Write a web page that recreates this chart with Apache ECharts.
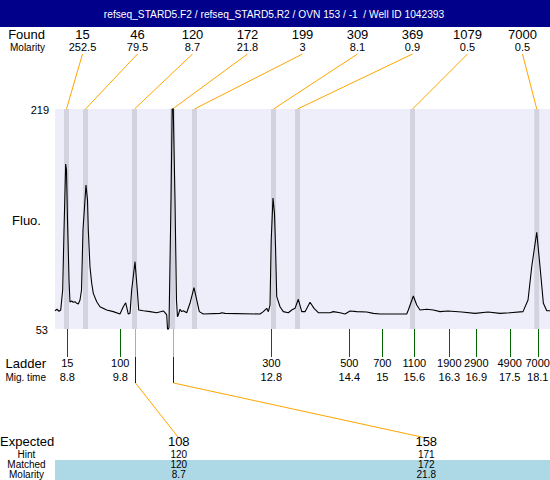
<!DOCTYPE html>
<html><head><meta charset="utf-8">
<script src="https://cdn.jsdelivr.net/npm/echarts@6/dist/echarts.min.js"></script>
<style>html,body{margin:0;padding:0;background:#fff}#c{width:550px;height:480px}</style>
</head><body><div id="c"></div>
<script>
const titleText = 'refseq_STARD5.F2 / refseq_STARD5.R2 / OVN 153 / -1  / Well ID 1042393';
const foundSizes = ['15','46','120','172','199','309','369','1079','7000'];
const foundMolarity = ['252.5','79.5','8.7','21.8','3','8.1','0.9','0.5','0.5'];
const peakTimes = [8.79, 9.166, 10.134, 10.887, 11.319, 12.88, 13.355, 15.627, 18.081];
const ladderSizes = ['15','100','300','500','700','1100','1900','2900','4900','7000'];
const ladderTimes = [8.806, 9.853, 12.837, 14.378, 15.030, 15.662, 16.354, 16.887, 17.547, 18.101];
const ladderTimeLabels = ['8.8','9.8','12.8','14.4','15','15.6','16.3','16.9','17.5','18.1'];
const expectedSizes = ['108','158'];
const hintSizes = ['120','171'];
const matchedSizes = ['120','172'];
const matchedMolarity = ['8.7','21.8'];
const matchedPeakIndex = [2, 3];
const yMin = 53, yMax = 219;
const xMin = 8.563, xMax = 18.343;
const traceTime = [8.563,8.602,8.642,8.676,8.715,8.741,8.774,8.790,8.810,8.840,
8.859,8.893,8.924,8.958,8.992,9.023,9.057,9.087,9.116,9.175,
9.205,9.221,9.254,9.288,9.320,9.387,9.452,9.584,9.715,9.847,
9.912,9.960,10.011,10.045,10.078,10.144,10.189,10.217,10.308,10.440,
10.572,10.703,10.736,10.770,10.790,10.815,10.855,10.887,10.934,10.963,
10.983,10.999,11.033,11.066,11.098,11.165,11.230,11.309,11.363,11.414,
11.493,11.823,11.863,11.922,12.614,12.679,12.746,12.778,12.811,12.835,
12.870,12.900,12.920,12.944,13.009,13.074,13.173,13.240,13.305,13.370,
13.438,13.503,13.602,13.681,13.766,13.997,14.062,14.195,14.293,14.392,
14.524,14.722,14.852,14.985,15.512,15.544,15.643,15.710,15.775,15.907,
16.038,16.170,16.328,16.599,16.862,17.119,17.356,17.553,17.810,17.909,
17.982,18.081,18.146,18.212,18.279,18.343];
const traceFluo = [66.8,67.9,66.4,67.3,82.4,127.7,177.5,173,135.3,90,
73.4,74.1,73.2,73.6,72.4,71.9,74.9,82.4,127.7,161.7,
150.4,127.7,100,87.5,79.9,73.6,69.8,67.3,66.1,64.3,
69.8,72.8,64.3,64.8,82.4,103.8,82.4,67.3,66.8,66.1,
65.3,66.6,65.3,63.6,50.7,54.5,150.4,245,150.4,74.9,
62.3,63.6,67.9,66.1,66.8,65.3,72.4,84.2,74.9,66.1,
64.3,64.8,65.3,64.8,64.3,66.1,68.6,66.1,71.1,120.2,
151.9,140,115,77.4,69.8,66.1,65.3,67.3,68.6,75.4,
66.1,66.1,73.2,68.6,65.3,65.3,66.1,65.3,64.3,66.6,
66.1,65.8,64.8,64.3,64.3,67.3,77.9,71.1,67.3,67.9,
67.3,66.1,66.6,65.8,64.8,65.8,64.8,65.3,66.1,74.9,
100,126,100,72.4,66.8,66.8];

const FONT = '"Liberation Sans", Arial, sans-serif';
const chart = echarts.init(document.getElementById('c'), null, {renderer: 'svg'});
const option = {
  animation: false,
  backgroundColor: '#ffffff',
  grid: [
    {left: 55, right: 0, top: 109, height: 220, show: true, backgroundColor: '#EEEEFB', borderWidth: 0},
    {left: 55, right: 0, top: 30, height: 20, show: false},
    {left: 55, right: 0, top: 430, height: 20, show: false}
  ],
  xAxis: [
    {type: 'value', gridIndex: 0, min: xMin, max: xMax, show: false},
    {type: 'category', gridIndex: 1, data: foundSizes, show: false},
    {type: 'category', gridIndex: 2, data: expectedSizes, show: false}
  ],
  yAxis: [
    {type: 'value', gridIndex: 0, min: yMin, max: yMax, show: false},
    {type: 'value', gridIndex: 1, show: false},
    {type: 'value', gridIndex: 2, show: false}
  ],
  series: [
    {
      type: 'custom', xAxisIndex: 0, yAxisIndex: 0, silent: true, z: 1,
      data: peakTimes.map(t => [t, yMin]),
      renderItem: (params, api) => {
        const top = api.coord([api.value(0), yMax]);
        const bot = api.coord([api.value(0), yMin]);
        return {type: 'rect', shape: {x: top[0] - 2.5, y: top[1], width: 5, height: bot[1] - top[1]},
                style: {fill: '#D3D3E0'}};
      }
    },
    {
      type: 'line', xAxisIndex: 0, yAxisIndex: 0, silent: true, z: 3, clip: true,
      data: traceTime.map((t, i) => [t, traceFluo[i]]),
      symbol: 'none', showSymbol: false,
      lineStyle: {color: '#000000', width: 1.1}
    },
    {
      type: 'custom', xAxisIndex: 0, yAxisIndex: 0, silent: true, z: 2, clip: false,
      data: ladderTimes.map(t => [t, yMin]),
      renderItem: (params, api) => {
        const i = params.dataIndex;
        const p = api.coord([api.value(0), yMin]);
        const x = Math.round(p[0]) + 0.5;
        return {type: 'group', children: [
          {type: 'line', shape: {x1: x, y1: p[1], x2: x, y2: p[1] + 28}, style: {stroke: '#006400', lineWidth: 1}},
          {type: 'text', style: {text: ladderSizes[i], x: p[0], y: p[1] + 34, align: 'center', verticalAlign: 'middle', fill: '#000', fontSize: 11, fontFamily: FONT}},
          {type: 'text', style: {text: ladderTimeLabels[i], x: p[0], y: p[1] + 48, align: 'center', verticalAlign: 'middle', fill: '#000', fontSize: 11, fontFamily: FONT}}
        ]};
      }
    }
  ]
};
chart.setOption(option);

const px = t => chart.convertToPixel({xAxisIndex: 0}, t);
const py = v => chart.convertToPixel({yAxisIndex: 0}, v);
const topX = i => chart.convertToPixel({xAxisIndex: 1}, i);
const botX = i => chart.convertToPixel({xAxisIndex: 2}, i);
const crisp = v => Math.round(v) + 0.5;

function txt(text, x, y, size, align, color, lh) {
  return {type: 'text', x: x, y: y, silent: true,
          style: {text: text, fill: color || '#000', fontSize: size, fontFamily: FONT, align: align || 'center',
                  verticalAlign: 'middle', lineHeight: lh || Math.round(size * 1.2)}};
}
function ln(x1, y1, x2, y2, color) {
  return {type: 'line', silent: true, shape: {x1: x1, y1: y1, x2: x2, y2: y2}, style: {stroke: color, lineWidth: 1}};
}

const g = [];
// title bar
g.push({type: 'rect', silent: true, shape: {x: 0, y: 0, width: 550, height: 27}, style: {fill: '#00008B'}});
g.push(txt(titleText, 274, 14, 10.2, 'center', '#ffffff'));
// found row
g.push(txt('Found', 45, 34, 13, 'right'));
g.push(txt('Molarity', 45, 47, 10, 'right'));
const plotTop = py(yMax), plotBot = py(yMin);
foundSizes.forEach((s, i) => {
  const x = topX(i);
  g.push(txt(s, x, 34, 13));
  g.push(txt(foundMolarity[i], x, 47, 11));
  g.push(ln(x, 54, px(peakTimes[i]), plotTop, '#FFA500'));
});
// y axis labels
g.push(txt(String(yMax), 49, plotTop + 1, 11, 'right'));
g.push(txt(String(yMin), 48, plotBot + 1, 11, 'right'));
g.push(txt('Fluo.', 26.5, 220.5, 13));
// ladder labels
g.push(txt('Ladder', 46, 363, 13, 'right'));
g.push(txt('Mig. time', 46, 377, 10, 'right'));
// expected table
g.push({type: 'rect', silent: true, shape: {x: 55, y: 460, width: 495, height: 20}, style: {fill: '#ADD8E6'}});
g.push(txt('Expected', 0, 441.5, 13, 'left', null, 12));
g.push(txt('Hint', 26.5, 454, 10, 'center', null, 10));
g.push(txt('Matched', 26.5, 464.5, 10, 'center', null, 10));
g.push(txt('Molarity', 26.5, 474.8, 10, 'center', null, 10));
expectedSizes.forEach((s, k) => {
  const bx = botX(k);
  const x = crisp(px(peakTimes[matchedPeakIndex[k]]));
  g.push(ln(x, plotBot, x, 357, '#FFA500'));
  g.push(ln(x, 357, x, 383, '#0000FF'));
  g.push(ln(x, 383, bx, 438, '#FFA500'));
  g.push(txt(s, bx, 441.5, 13, 'center', null, 12));
  g.push(txt(hintSizes[k], bx, 454, 10, 'center', null, 10));
  g.push(txt(matchedSizes[k], bx, 464.5, 10, 'center', null, 10));
  g.push(txt(matchedMolarity[k], bx, 474.8, 10, 'center', null, 10));
});
chart.setOption({graphic: g});
</script>
</body></html>
